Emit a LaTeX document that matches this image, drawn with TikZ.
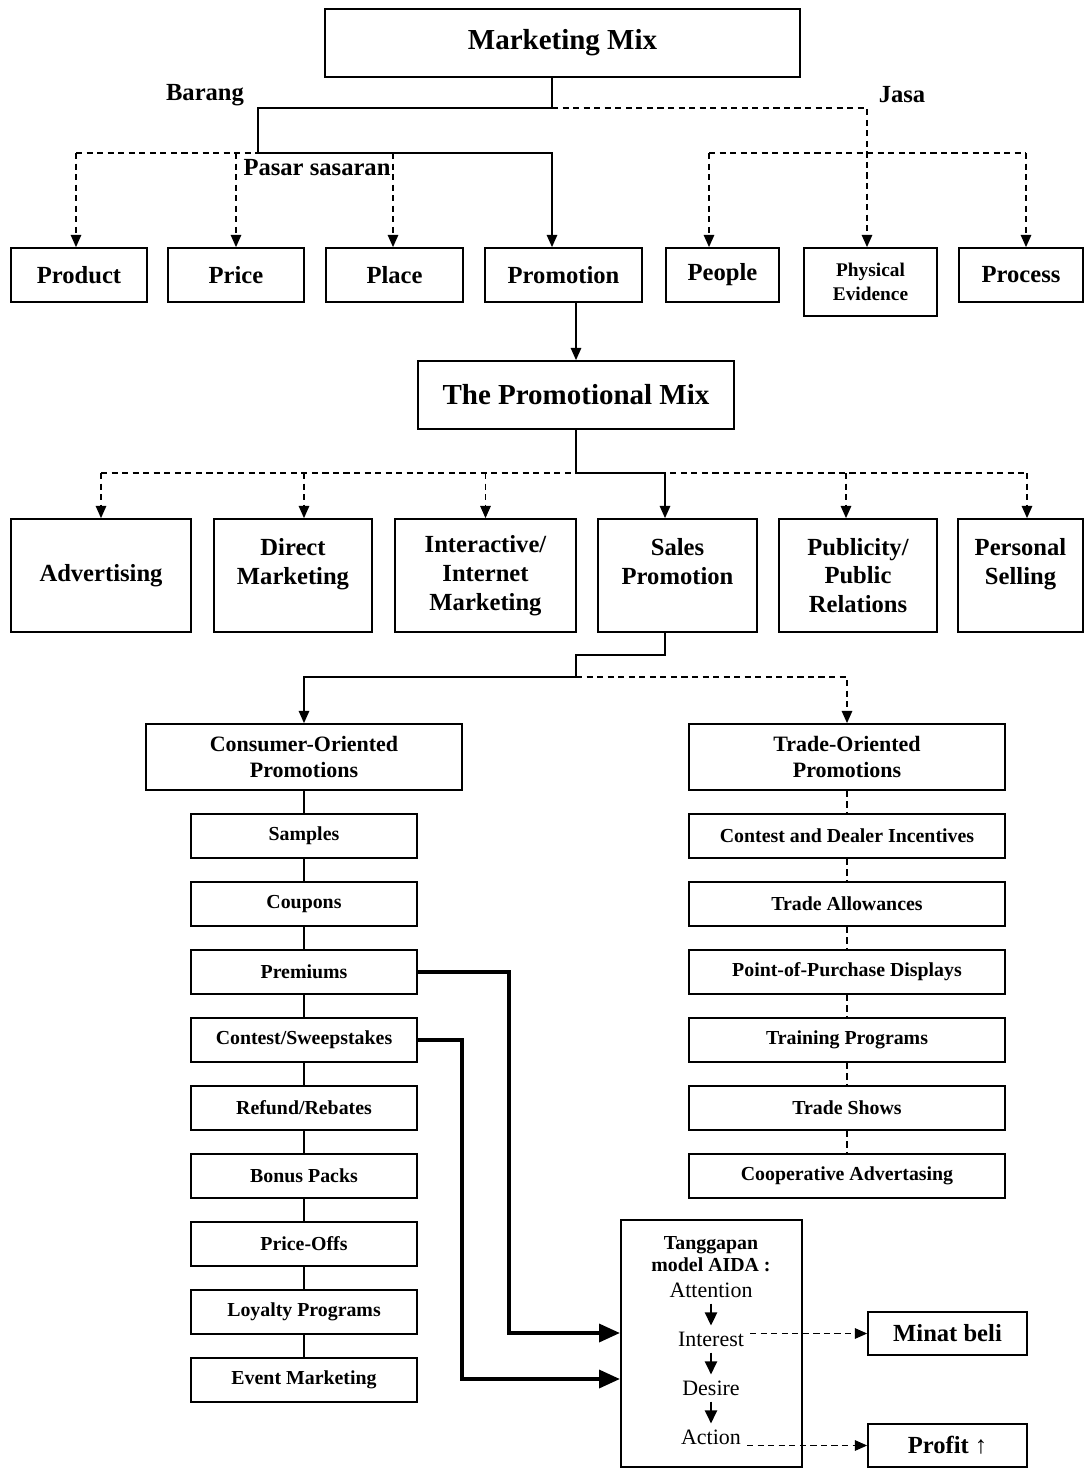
\documentclass[tikz,border=0pt]{standalone}
\usepackage{fontspec}
\setmainfont{Liberation Serif}
\usetikzlibrary{arrows.meta}
\begin{document}
\begin{tikzpicture}[
		x=0.02cm, y=-0.02cm,
		>={Triangle[length=7pt,width=6pt]},
		bx/.style = {rectangle, draw, line width=1pt, inner sep=0pt, align=center, font=\bfseries\fontsize{14}{16.4}\selectfont},
		hb/.style = {bx, minimum height=1.36cm, font=\bfseries\fontsize{16.5}{20}\selectfont},
		rb/.style = {bx, minimum height=1.08cm},
		mb/.style = {bx, minimum height=2.26cm},
		ob/.style = {bx, minimum width=6.32cm, minimum height=1.32cm, font=\bfseries\fontsize{12.5}{14.7}\selectfont},
		sb/.style = {bx, minimum height=0.88cm, font=\bfseries\fontsize{11.3}{13}\selectfont},
		lb/.style = {font=\bfseries\fontsize{14}{16}\selectfont},
		aw/.style = {font=\fontsize{12.5}{15}\selectfont},
		sl/.style = {line width=0.8pt},
		dl/.style = {line width=0.8pt, dash pattern=on 3.5pt off 2.5pt},
		fat/.style = {->, line width=2.6pt, >={Triangle[length=12pt,width=10pt]}},
		aa/.style = {->, line width=1pt, >={Triangle[length=7.5pt,width=7pt]}},
		]
		
		\useasboundingbox (0,0) rectangle (1085,1469);
		
		%Nodes
		\node[hb, minimum width=9.5cm]	(mm)	at	(562.5,43)	{Marketing Mix};
		\node[lb]	(barang)	at	(205,95)	{Barang};
		\node[lb]	(jasa)	at	(902,95)	{Jasa};
		\node[lb]	(pasar)	at	(317,168)	{Pasar sasaran};
		
		\node[rb, minimum width=2.72cm]	(product)	at	(79,275)	{Product};
		\node[rb, minimum width=2.72cm]	(price)	at	(236,275)	{Price};
		\node[rb, minimum width=2.74cm]	(place)	at	(394.5,275)	{Place};
		\node[rb, minimum width=3.14cm]	(promotion)	at	(563.5,275)	{Promotion};
		\node[rb, minimum width=2.26cm]	(people)	at	(722.5,275)	{People};
		\node[bx, minimum width=2.66cm, minimum height=1.36cm, font=\bfseries\fontsize{11}{13.6}\selectfont]	(physical)	at	(870.5,282)	{Physical\\Evidence};
		\node[rb, minimum width=2.48cm]	(process)	at	(1021,275)	{Process};
		
		\node[hb, minimum width=6.32cm]	(promix)	at	(576,395)	{The Promotional Mix};
		
		\node[mb, minimum width=3.6cm]	(adv)	at	(101,575.5)	{Advertising};
		\node[mb, minimum width=3.16cm]	(dm)	at	(293,575.5)	{Direct\\Marketing\\~};
		\node[mb, minimum width=3.62cm]	(iim)	at	(485.5,575.5)	{Interactive/\\Internet\\Marketing};
		\node[mb, minimum width=3.18cm]	(sp)	at	(677.5,575.5)	{Sales\\Promotion\\~};
		\node[mb, minimum width=3.16cm]	(pr)	at	(858,575.5)	{Publicity/\\Public\\Relations};
		\node[mb, minimum width=2.5cm]	(ps)	at	(1020.5,575.5)	{Personal\\Selling\\~};
		
		\node[ob]	(consumer)	at	(304,757)	{Consumer-Oriented\\Promotions};
		\node[ob]	(trade)	at	(847,757)	{Trade-Oriented\\Promotions};
		
		\foreach \t [count=\i] in {Samples, Coupons, Premiums, {Contest/Sweepstakes}, {Refund/Rebates}, Bonus Packs, Price-Offs, Loyalty Programs, Event Marketing}
			\node[sb, minimum width=4.52cm]	(l\i)	at	(304,768+68*\i)	{\t};
		\foreach \t [count=\i] in {Contest and Dealer Incentives, Trade Allowances, Point-of-Purchase Displays, Training Programs, Trade Shows, Cooperative Advertasing}
			\node[sb, minimum width=6.32cm]	(r\i)	at	(847,768+68*\i)	{\t};
		
		\node[bx, minimum width=3.62cm, minimum height=4.94cm]	(aida)	at	(711.5,1343.5)	{};
		\node[font=\bfseries\fontsize{11.3}{12.5}\selectfont, align=center]	(tang)	at	(711,1254)	{Tanggapan\\model AIDA :};
		\node[aw]	(att)	at	(711,1290)	{Attention};
		\node[aw]	(int)	at	(711,1339)	{Interest};
		\node[aw]	(des)	at	(711,1388)	{Desire};
		\node[aw]	(act)	at	(711,1437)	{Action};
		
		\node[bx, minimum width=3.18cm, minimum height=0.86cm]	(minat)	at	(947.5,1333.5)	{Minat beli};
		\node[bx, minimum width=3.18cm, minimum height=0.86cm]	(profit)	at	(947.5,1445.5)	{Profit ↑};
		
		%Lines
		\coordinate (split)	at	(552,108);
		\coordinate (jv)	at	(867,108);
		\coordinate (gbus)	at	(258,153);
		\coordinate (gl)	at	(76,153);
		\coordinate (gr)	at	(393,153);
		\coordinate (jl)	at	(709,153);
		\coordinate (jr)	at	(1026,153);
		\draw[dl]	(gl)	--	(gr);
		\draw[dl]	(jl)	--	(jr);
		\draw[dl, ->]	(split)	--	(jv)	--	(jv |- physical.north);
		\draw[sl, ->]	(mm.south -| split)	--	(split)	-|	(gbus)	-|	(split |- promotion.north);
		\draw[dl, ->]	(gl)	--	(gl |- product.north);
		\draw[dl, ->]	(price.north |- gl)	--	(price.north);
		\draw[dl, ->]	(gr)	--	(gr |- place.north);
		\draw[dl, ->]	(jl)	--	(jl |- people.north);
		\draw[dl, ->]	(jr)	--	(jr |- process.north);
		
		\draw[sl, ->]	(promix.north |- promotion.south)	--	(promix.north);
		
		\coordinate (pm)	at	(576,473);
		\coordinate (pl)	at	(101,473);
		\coordinate (pmr)	at	(665,473);
		\coordinate (pq)	at	(1027,473);
		\draw[dl]	(pl)	--	(pq);
		\foreach \n/\d in {adv/0, dm/11, iim/0, pr/-12, ps/6.5}{
			\coordinate (\n-t)	at	([xshift=\d*0.02cm]\n.north);
			\draw[dl, ->]	(\n-t |- pm)	--	(\n-t);
		}
		\draw[sl, ->]	(promix.south)	--	(pm)	--	(pmr)	--	(pmr |- sp.north);
		
		\coordinate (sj)	at	(576,655);
		\coordinate (sk)	at	(576,677);
		\draw[sl, ->]	(pmr |- sp.south)	--	(pmr |- sj)	--	(sj)	--	(sk)	-|	(consumer.north);
		\draw[dl, ->]	(sk)	-|	(trade.north);
		
		\draw[sl]	(consumer.south)	--	(l1.north);
		\foreach \i [count=\j from 2] in {1,...,8}
			\draw[sl]	(l\i.south)	--	(l\j.north);
		\draw[dl]	(trade.south)	--	(r1.north);
		\foreach \i [count=\j from 2] in {1,...,5}
			\draw[dl]	(r\i.south)	--	(r\j.north);
		
		\coordinate (f1)	at	(509,1333);
		\coordinate (f2)	at	(462,1379);
		\draw[fat]	(l3.east)	-|	(f1)	--	(f1 -| aida.west);
		\draw[fat]	(l4.east)	-|	(f2)	--	(f2 -| aida.west);
		
		\draw[aa]	(att)	--	(int);
		\draw[aa]	(int)	--	(des);
		\draw[aa]	(des)	--	(act);
		
		\draw[dl, ->]	(int.east |- minat)	--	(minat.west);
		\draw[dl, ->]	(act.east |- profit)	--	(profit.west);
		
	\end{tikzpicture}
\end{document}
